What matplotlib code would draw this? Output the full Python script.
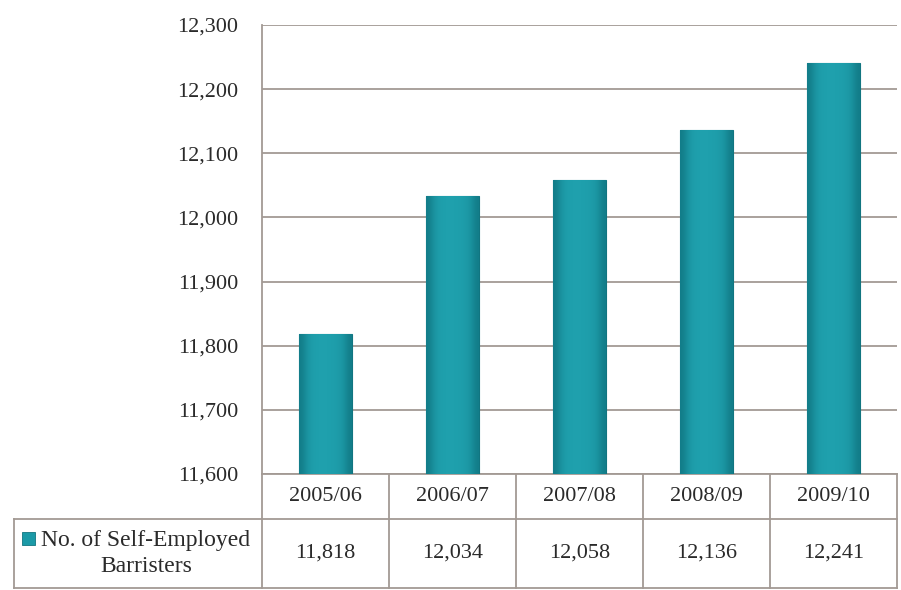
import matplotlib.pyplot as plt
import matplotlib.transforms as mtransforms
from matplotlib.patches import Rectangle
from matplotlib.ticker import FuncFormatter
import numpy as np

# data
years = ['2005/06', '2006/07', '2007/08', '2008/09', '2009/10']
barristers = [11818, 12034, 12058, 12136, 12241]
series_name = 'No. of Self-Employed\nBarristers'
y_ticks = [11600, 11700, 11800, 11900, 12000, 12100, 12200, 12300]

plt.rcParams['font.family'] = ['Liberation Serif', 'DejaVu Serif']
grid_col = '#a39a94'
teal = '#1b9aa7'
txt_col = '#2a2a2a'

fig = plt.figure(figsize=(9.01, 5.90), dpi=100)
ax = fig.add_axes([262 / 901, 1 - 474 / 590, 635 / 901, 449 / 590])

x = np.arange(len(years))
bar_w = 0.41
bars = ax.bar(x, barristers, width=bar_w, color=teal, edgecolor='#117580',
              linewidth=0.8, zorder=3)

# soft horizontal shading on each bar for the bevelled look
shade = np.array([[0.6, 0.85, 0.97, 1.0, 1.0, 1.0, 0.98, 0.95, 0.85, 0.6]])
cmap = plt.matplotlib.colors.LinearSegmentedColormap.from_list(
    'teal', ['#0f7480', '#1fa0ad'])
for b in bars:
    im = ax.imshow(shade, cmap=cmap, vmin=0.5, vmax=1.0, aspect='auto',
                   extent=(b.get_x(), b.get_x() + b.get_width(),
                           y_ticks[0], b.get_height()), zorder=3.5,
                   interpolation='bicubic')
    im.set_clip_path(b)

ax.set_xlim(-0.5, len(years) - 0.5)
ax.set_ylim(y_ticks[0], y_ticks[-1])
ax.set_yticks(y_ticks)
ax.yaxis.set_major_formatter(FuncFormatter(lambda v, p: f'{int(v):,}'))
ax.tick_params(axis='y', length=0, pad=17, labelsize=16, labelcolor=txt_col)
ax.set_xticks([])
ax.grid(axis='y', color=grid_col, linewidth=1.3, zorder=0)
for s in ['top', 'right', 'bottom']:
    ax.spines[s].set_visible(False)
ax.spines['left'].set_color(grid_col)
ax.spines['left'].set_linewidth(1.3)

# data table under the axes
trans = mtransforms.blended_transform_factory(ax.transData, ax.transAxes)
row1 = -45 / 449
row2 = -114 / 449
left_x = (14 - 262) / 635 * 5 - 0.5
lk = dict(color=grid_col, linewidth=1.3, transform=trans, clip_on=False)
ax.plot([-0.5, 4.5], [0, 0], **lk)
ax.plot([left_x, 4.5], [row1, row1], **lk)
ax.plot([left_x, 4.5], [row2, row2], **lk)
ax.plot([left_x, left_x], [row1, row2], **lk)
for c in np.arange(len(years) + 1) - 0.5:
    ax.plot([c, c], [0, row2], **lk)

for i, yr in enumerate(years):
    ax.text(i, row1 / 2, yr, transform=trans, ha='center', va='center',
            fontsize=16, color=txt_col)
    ax.text(i, (row1 + row2) / 2, f'{barristers[i]:,}', transform=trans,
            ha='center', va='center', fontsize=16, color=txt_col)

# legend key and series name
key_x = (22 - 262) / 635 * 5 - 0.5
key_w = 13 / 635 * 5
ax.add_patch(Rectangle((key_x, -58 / 449), key_w, -13 / 449, transform=trans,
                       facecolor=teal, edgecolor='#117580', linewidth=0.6,
                       clip_on=False))
name_x = (146 - 262) / 635 * 5 - 0.5
ax.text(name_x, (row1 + row2) / 2, series_name, transform=trans,
        ha='center', va='center', fontsize=17, color=txt_col,
        linespacing=1.3)

fig.savefig('out.png', dpi=100, facecolor='white')
